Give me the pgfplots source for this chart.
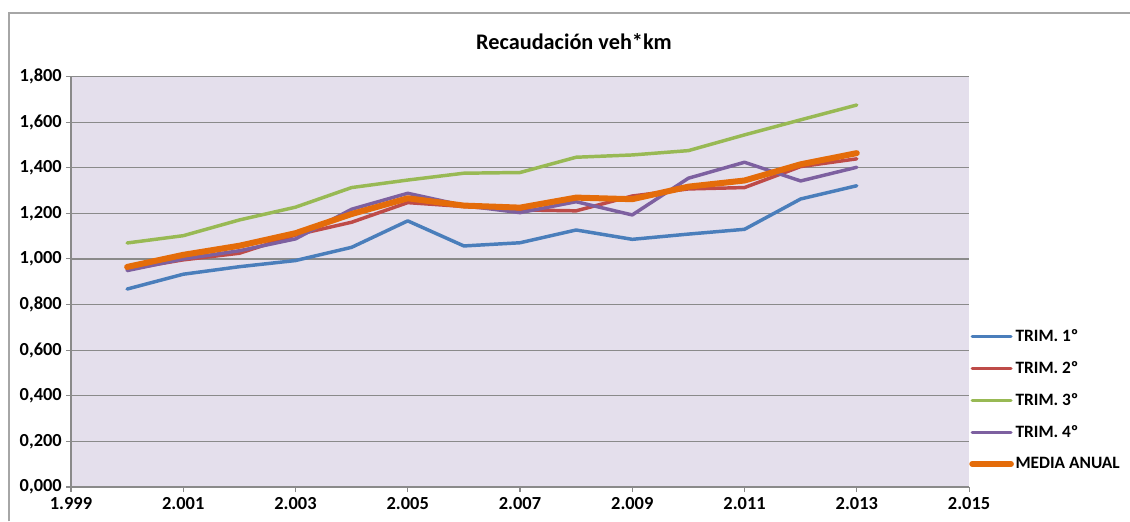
\documentclass[border=0pt]{standalone}
\usepackage{pgfplots}
\pgfplotsset{compat=1.18}
\usepackage{fontspec}
\setmainfont{Carlito}
\definecolor{cblue}{HTML}{4A7EBB}
\definecolor{cred}{HTML}{BE4B48}
\definecolor{cgreen}{HTML}{98B954}
\definecolor{cpurple}{HTML}{7D60A0}
\definecolor{corange}{HTML}{E46C0A}
\definecolor{bgcol}{HTML}{E4DFEC}
\definecolor{gridcol}{HTML}{8A8A8A}
\begin{document}
\begin{tikzpicture}
\path[use as bounding box] (0pt,0pt) rectangle (847.5pt,-390.75pt);
\draw[color=gray!70, line width=1pt] (6.75pt,-391pt) -- (6.75pt,-9.75pt) -- (848pt,-9.75pt);
\node[font=\bfseries\fontsize{16.7}{19}\selectfont] at (430.5pt,-31.5pt) {Recaudación veh*km};
\begin{axis}[
  at={(53.25pt,-365.25pt)}, anchor=south west,
  scale only axis, width=673.5pt, height=307.875pt,
  xmin=1999, xmax=2015, ymin=0, ymax=1.8,
  xtick={1999,2001,...,2015},
  xticklabels={1.999,2.001,2.003,2.005,2.007,2.009,2.011,2.013,2.015},
  ytick={0,0.2,0.4,0.6,0.8,1.0,1.2,1.4,1.6,1.8},
  yticklabels={{0,000},{0,200},{0,400},{0,600},{0,800},{1,000},{1,200},{1,400},{1,600},{1,800}},
  axis x line*=bottom, axis y line*=left,
  axis line style={-, color=gridcol, line width=0.8pt},
  tick align=outside, major tick length=3.75pt,
  tick style={color=gridcol, line width=0.8pt},
  ymajorgrids, major grid style={color=gridcol, line width=0.9pt},
  axis background/.style={fill=bgcol},
  ticklabel style={font=\bfseries\fontsize{13.8}{16}\selectfont},
  yticklabel style={inner sep=0pt, xshift=-3pt},
  xticklabel style={inner sep=0pt, yshift=-4pt},
  legend cell align=left,
  legend style={at={(1.0,0.212)}, anchor=west, draw=none, fill=none,
    font=\bfseries\fontsize{13}{15}\selectfont, row sep=9.5pt, inner sep=0pt,
    nodes={inner xsep=1.2pt}},
  legend image code/.code={\draw[#1] (0pt,0pt) -- (29pt,0pt);},
  every axis plot/.append style={line join=round, line cap=round},
  clip=false,
]
\addplot[color=cblue, line width=2.6pt] coordinates {
(2000,0.868)(2001,0.933)(2002,0.966)(2003,0.993)(2004,1.051)(2005,1.167)(2006,1.057)
(2007,1.071)(2008,1.127)(2009,1.086)(2010,1.109)(2011,1.130)(2012,1.263)(2013,1.321)};
\addlegendentry{TRIM. 1º}
\addplot[color=cred, line width=2.6pt] coordinates {
(2000,0.955)(2001,0.996)(2002,1.025)(2003,1.105)(2004,1.161)(2005,1.247)(2006,1.230)
(2007,1.215)(2008,1.211)(2009,1.276)(2010,1.307)(2011,1.313)(2012,1.405)(2013,1.439)};
\addlegendentry{TRIM. 2º}
\addplot[color=cgreen, line width=2.6pt] coordinates {
(2000,1.070)(2001,1.102)(2002,1.171)(2003,1.227)(2004,1.313)(2005,1.346)(2006,1.376)
(2007,1.379)(2008,1.446)(2009,1.456)(2010,1.475)(2011,1.544)(2012,1.610)(2013,1.675)};
\addlegendentry{TRIM. 3º}
\addplot[color=cpurple, line width=2.6pt] coordinates {
(2000,0.949)(2001,1.000)(2002,1.036)(2003,1.088)(2004,1.218)(2005,1.288)(2006,1.234)
(2007,1.203)(2008,1.251)(2009,1.193)(2010,1.354)(2011,1.424)(2012,1.342)(2013,1.402)};
\addlegendentry{TRIM. 4º}
\addplot[color=corange, line width=4.5pt] coordinates {
(2000,0.965)(2001,1.018)(2002,1.058)(2003,1.113)(2004,1.197)(2005,1.266)(2006,1.234)
(2007,1.225)(2008,1.269)(2009,1.262)(2010,1.317)(2011,1.344)(2012,1.415)(2013,1.464)};
\addlegendentry{MEDIA ANUAL}
\end{axis}
\end{tikzpicture}
\end{document}
